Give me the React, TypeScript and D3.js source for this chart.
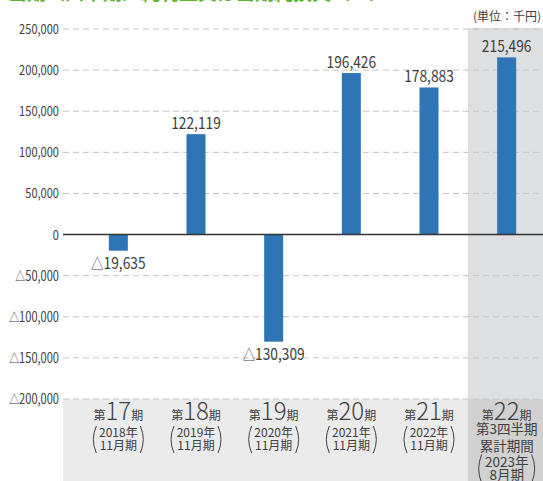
import React from "react";
import * as d3 from "d3";

const periodNums = ["17", "18", "19", "20", "21", "22"];
const yearLabels = ["2018年", "2019年", "2020年", "2021年", "2022年", "2023年"];
const monthLabels = ["11月期", "11月期", "11月期", "11月期", "11月期", "8月期"];
const extraLastLines = ["第3四半期", "累計期間"];
const values = [-19635, 122119, -130309, 196426, 178883, 215496];
const yTicks = [250000, 200000, 150000, 100000, 50000, 0, -50000, -100000, -150000, -200000];
const titleText = "当期（四半期）純利益又は当期純損失（△）";
const unitText = "(単位：千円)";

const W = 543;
const H = 481;
const JP = "'Noto Sans CJK JP', 'Noto Sans', sans-serif";

const fmtNum = (v: number) => (v < 0 ? "△" : "") + d3.format(",")(Math.abs(v));

export default function App() {
  const y = d3.scaleLinear().domain([-200000, 250000]).range([399, 29]);
  const x = d3.scaleBand<string>().domain(periodNums).range([79.5, 545.5]).padding(0);
  const bw = x.bandwidth();
  const barW = 19;
  const plotLeft = 63;
  const last = periodNums[periodNums.length - 1];
  const hlX = x(last)!;

  const paren = (cx: number, top: number, bottom: number, dir: number) => {
    const mid = (top + bottom) / 2;
    return `M${cx},${top} Q${cx - dir * 6},${mid} ${cx},${bottom}`;
  };

  return (
    <svg width={W} height={H} style={{ position: "absolute", left: 0, top: 0, display: "block" }}>
      <rect x={0} y={0} width={W} height={H} fill="#ffffff" />
      {/* title (cut off at top) */}
      <text x={8} y={0} fill="#5cb531" fontFamily={JP} fontSize={19} fontWeight={700}>
        {titleText}
      </text>
      {/* bottom band */}
      <rect x={plotLeft} y={y(-200000)} width={W - plotLeft} height={H - y(-200000)} fill="#ebebeb" />
      {/* highlight column */}
      <rect x={hlX} y={28} width={W - hlX} height={y(-200000) - 28} fill="#dedfe0" />
      <rect x={hlX} y={y(-200000)} width={W - hlX} height={H - y(-200000)} fill="#d1d1d1" />
      {/* unit */}
      <text x={541} y={21} textAnchor="end" fill="#404040" fontFamily={JP} fontSize={12}>
        {unitText}
      </text>
      {/* grid */}
      {yTicks.filter((t) => t !== 0).map((t) => (
        <line key={t} x1={plotLeft} x2={W} y1={y(t)} y2={y(t)} stroke="#c4c4c4" strokeWidth={1} strokeDasharray="6,4" />
      ))}
      {/* y tick labels */}
      {yTicks.map((t) => (
        <text
          key={"l" + t}
          transform={`translate(59,${y(t) + 5}) scale(0.79,1)`}
          textAnchor="end"
          fill="#404040"
          fontFamily={JP}
          fontSize={14}
        >
          {t < 0 && <tspan fontSize={12.5}>△</tspan>}
          {d3.format(",")(Math.abs(t))}
        </text>
      ))}
      {/* bars */}
      {values.map((v, i) => {
        const c = periodNums[i];
        const cx = x(c)! + bw / 2;
        const y0 = y(0);
        const y1 = y(v);
        return (
          <g key={c}>
            <rect x={cx - barW / 2} y={Math.min(y0, y1)} width={barW} height={Math.abs(y1 - y0)} fill="#2e75b6" />
            <text
              transform={`translate(${cx},${v >= 0 ? y1 - 5 : y1 + 18}) scale(0.86,1)`}
              textAnchor="middle"
              fill="#404040"
              fontFamily={JP}
              fontSize={16}
            >
              {v < 0 && <tspan fontSize={14.5}>△</tspan>}
              {d3.format(",")(Math.abs(v))}
            </text>
          </g>
        );
      })}
      {/* zero line */}
      <line x1={plotLeft} x2={W} y1={y(0)} y2={y(0)} stroke="#333333" strokeWidth={1.5} />
      {/* x labels */}
      {periodNums.map((p, i) => {
        const cx = x(p)! + bw / 2;
        const isLast = i === periodNums.length - 1;
        const fs = isLast ? 13.5 : 12;
        const l1 = isLast ? 467 : 437;
        const l2 = isLast ? 480 : 450;
        const off = isLast ? 25 : 22;
        return (
          <g key={"x" + p} fill="#404040" fontFamily={JP}>
            <text x={cx} y={420} textAnchor="middle">
              <tspan fontSize={12}>第</tspan>
              <tspan fontSize={24} fontWeight={300}>{p}</tspan>
              <tspan fontSize={12}>期</tspan>
            </text>
            {isLast &&
              extraLastLines.map((t, k) => (
                <text key={t} x={cx} y={434 + k * 17} textAnchor="middle" fontSize={13.5}>
                  {t}
                </text>
              ))}
            <text x={cx} y={l1} textAnchor="middle" fontSize={fs}>
              {yearLabels[i]}
            </text>
            <text x={cx} y={l2} textAnchor="middle" fontSize={fs}>
              {monthLabels[i]}
            </text>
            <path d={paren(cx - off, l1 - fs + 1, l2 + 3, 1)} fill="none" stroke="#404040" strokeWidth={1} />
            <path d={paren(cx + off, l1 - fs + 1, l2 + 3, -1)} fill="none" stroke="#404040" strokeWidth={1} />
          </g>
        );
      })}
    </svg>
  );
}
